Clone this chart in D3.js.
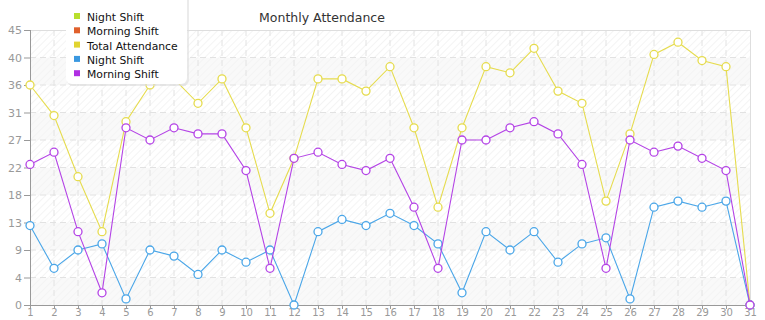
<!DOCTYPE html>
<html>
<head>
<meta charset="utf-8">
<script src="https://cdn.jsdelivr.net/npm/d3@7"></script>
<style>
  body { margin: 0; background: #fff; }
  text { font-family: "DejaVu Sans", Verdana, sans-serif; }
</style>
</head>
<body>
<div id="chart"></div>
<script>
const days = d3.range(1, 32);
const totalAttendance = [36, 31, 21, 12, 30, 36, 37, 33, 37, 29, 15, 24, 37, 37, 35, 39, 29, 16, 29, 39, 38, 42, 35, 33, 17, 28, 41, 43, 40, 39, 0];
const nightShift = [13, 6, 9, 10, 1, 9, 8, 5, 9, 7, 9, 0, 12, 14, 13, 15, 13, 10, 2, 12, 9, 12, 7, 10, 11, 1, 16, 17, 16, 17, 0];
const morningShift = [23, 25, 12, 2, 29, 27, 29, 28, 28, 22, 6, 24, 25, 23, 22, 24, 16, 6, 27, 27, 29, 30, 28, 23, 6, 27, 25, 26, 24, 22, 0];
const yTicks = [0, 4.5, 9, 13.5, 18, 22.5, 27, 31.5, 36, 40.5, 45];
const legendNames = ['Night Shift', 'Morning Shift', 'Total Attendance', 'Night Shift', 'Morning Shift'];
const legendColors = ['#b8df2e', '#e0602c', '#e1d430', '#3a98e0', '#b02fe3'];

const width = 765;
const height = 320;
const margin = { top: 30, right: 15, bottom: 15, left: 30 };

const svg = d3.select('#chart')
  .append('svg')
  .attr('width', width)
  .attr('height', height);

const x = d3.scalePoint()
  .domain(days)
  .range([margin.left, width - margin.right]);

const y = d3.scaleLinear()
  .domain([0, 45])
  .range([height - margin.bottom, margin.top]);

// hatch pattern for the plot background
const defs = svg.append('defs');
const pat = defs.append('pattern')
  .attr('id', 'hatch')
  .attr('patternUnits', 'userSpaceOnUse')
  .attr('width', 5)
  .attr('height', 5)
  .attr('patternTransform', 'rotate(45)');
pat.append('rect').attr('width', 5).attr('height', 5).attr('fill', '#fff');
pat.append('line')
  .attr('x1', 0).attr('y1', 0).attr('x2', 0).attr('y2', 5)
  .attr('stroke', '#eeeeee').attr('stroke-width', 1.2);

const pat2 = defs.append('pattern')
  .attr('id', 'hatch2')
  .attr('patternUnits', 'userSpaceOnUse')
  .attr('width', 5)
  .attr('height', 5)
  .attr('patternTransform', 'rotate(45)');
pat2.append('rect').attr('width', 5).attr('height', 5).attr('fill', '#f9f9f9');
pat2.append('line')
  .attr('x1', 0).attr('y1', 0).attr('x2', 0).attr('y2', 5)
  .attr('stroke', '#f1f1f1').attr('stroke-width', 1.2);

const x0 = margin.left;
const x1 = width - margin.right;

// alternating bands
svg.append('g')
  .selectAll('rect')
  .data(yTicks.slice(0, -1))
  .enter()
  .append('rect')
  .attr('x', x0)
  .attr('width', x1 - x0)
  .attr('y', (d, i) => y(yTicks[i + 1]))
  .attr('height', (d, i) => y(d) - y(yTicks[i + 1]))
  .attr('fill', (d, i) => ((yTicks.length - 2 - i) % 2 === 0 ? 'url(#hatch)' : 'url(#hatch2)'));

// grid lines
svg.append('g')
  .selectAll('line')
  .data(days.slice(1, -1))
  .enter()
  .append('line')
  .attr('x1', (d) => x(d)).attr('x2', (d) => x(d))
  .attr('y1', margin.top).attr('y2', height - margin.bottom)
  .attr('stroke', '#e2e2e2')
  .attr('stroke-dasharray', '6,4');

svg.append('g')
  .selectAll('line')
  .data(yTicks.slice(1, -1))
  .enter()
  .append('line')
  .attr('x1', x0).attr('x2', x1)
  .attr('y1', (d) => y(d)).attr('y2', (d) => y(d))
  .attr('stroke', '#e2e2e2')
  .attr('stroke-dasharray', '6,4');

// top / right border
svg.append('path')
  .attr('d', `M${x0},${margin.top + 0.5}H${x1 + 0.5}V${height - margin.bottom}`)
  .attr('fill', 'none')
  .attr('stroke', '#dedede');

// axes
const yAxis = svg.append('g')
  .attr('transform', `translate(${x0},0)`)
  .call(d3.axisLeft(y).tickValues(yTicks).tickSize(6).tickFormat((d) => Math.floor(d)));
yAxis.select('.domain').attr('stroke', '#999').attr('d', `M0.5,${margin.top}V${height - margin.bottom}`);
yAxis.selectAll('.tick line').attr('stroke', '#999').attr('x2', 0).attr('x1', -6);
yAxis.selectAll('.tick text').attr('fill', '#999').attr('font-size', 11).attr('x', -8)
  .style('font-family', '"DejaVu Sans", Verdana, sans-serif');

// x labels squeezed a little so they stay inside the 320px frame
const xAxis = svg.append('g')
  .attr('transform', `translate(0,${height - margin.bottom})`)
  .call(d3.axisBottom(x).tickSize(4));
xAxis.select('.domain').attr('stroke', '#999').attr('d', `M${x0},0.5H${x1}`);
xAxis.selectAll('.tick line').attr('stroke', '#999');
xAxis.selectAll('.tick text').attr('fill', '#999').attr('font-size', 10).attr('y', 4)
  .style('font-family', '"DejaVu Sans", Verdana, sans-serif');

// series
const series = [
  { values: totalAttendance, color: '#e6dc4e' },
  { values: nightShift, color: '#4aa6e8' },
  { values: morningShift, color: '#b443e6' },
];

const line = d3.line()
  .x((d, i) => x(days[i]))
  .y((d) => y(d));

series.forEach((s) => {
  const g = svg.append('g');
  g.append('path')
    .datum(s.values)
    .attr('d', line)
    .attr('fill', 'none')
    .attr('stroke', s.color)
    .attr('stroke-width', 1.1);
  g.selectAll('circle')
    .data(s.values)
    .enter()
    .append('circle')
    .attr('cx', (d, i) => x(days[i]))
    .attr('cy', (d) => y(d))
    .attr('r', 4)
    .attr('fill', '#fff')
    .attr('stroke', s.color)
    .attr('stroke-width', 1.3);
});

// title
svg.append('text')
  .attr('x', 322)
  .attr('y', 22)
  .attr('text-anchor', 'middle')
  .attr('font-size', 12.5)
  .attr('fill', '#333')
  .text('Monthly Attendance');

// legend
const legend = svg.append('g').attr('transform', 'translate(66,0)');
legend.append('rect')
  .attr('x', 1).attr('y', -8)
  .attr('width', 122).attr('height', 94)
  .attr('rx', 6)
  .attr('fill', '#ddd')
  .attr('opacity', 0.6);
legend.append('rect')
  .attr('x', 0).attr('y', -8)
  .attr('width', 121).attr('height', 92)
  .attr('rx', 6)
  .attr('fill', '#fff');

const item = legend.selectAll('.item')
  .data(legendNames)
  .enter()
  .append('g')
  .attr('class', 'item')
  .attr('transform', (d, i) => `translate(0,${17 + i * 14.3})`);
item.append('rect')
  .attr('x', 8).attr('y', -4)
  .attr('width', 6).attr('height', 6)
  .attr('fill', (d, i) => legendColors[i]);
item.append('text')
  .attr('x', 21).attr('y', 4)
  .attr('font-size', 10.8)
  .attr('fill', '#111')
  .text((d) => d);
</script>
</body>
</html>
